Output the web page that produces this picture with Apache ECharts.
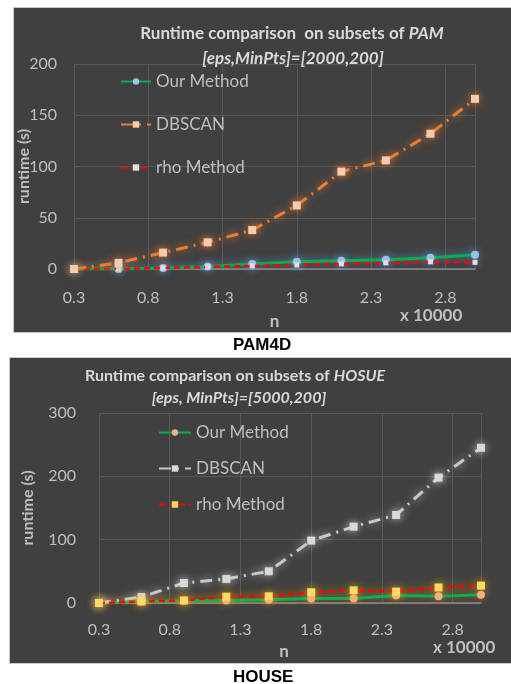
<!DOCTYPE html>
<html><head><meta charset="utf-8">
<script src="https://cdn.jsdelivr.net/npm/echarts@6/dist/echarts.min.js"></script>
<style>html,body{margin:0;padding:0;background:#fff;}#c{width:511px;height:684px;}</style>
</head><body><div id="c"></div>
<script>
// ---- data ----
const nValues = [0.3, 0.6, 0.9, 1.2, 1.5, 1.8, 2.1, 2.4, 2.7, 3.0];   // x 10000
const seriesNames = ['Our Method', 'DBSCAN', 'rho Method'];
// PAM4D
const pamOur    = [0, 0, 1, 2.5, 5, 7, 8, 9, 11, 14];
const pamDbscan = [0, 6, 16, 26, 38, 62, 95, 106, 132, 166];
const pamRho    = [0, 0, 1, 2, 3, 4, 5, 6, 7, 6.5];
// HOUSE
const houseOur    = [0, 2.5, 3.5, 4, 5, 7, 7, 12, 10.5, 13];
const houseDbscan = [0, 9.5, 31.5, 38, 50, 98.5, 120.5, 139, 198, 245];
const houseRho    = [0, 2.5, 4, 10, 10.5, 17, 20, 18, 24.5, 27.5];
// axes
const xMin = 0.3, xMax = 3.0, xStep = 0.5;
const pamYMax = 200, pamYStep = 50;
const houseYMax = 300, houseYStep = 100;

const pair = (ys) => nValues.map((x, i) => [x, ys[i]]);
const FONT = 'Lato';
const LBL = '#bfbfbf';
const GRIDC = '#595959';

function xAxis(gi, margin, nameGap, namePad) {
  return {
    type: 'value', gridIndex: gi, min: xMin, max: xMax, interval: xStep,
    name: 'n', nameLocation: 'middle', nameGap: nameGap, nameMoveOverlap: false,
    nameTextStyle: {color: LBL, fontFamily: FONT, fontWeight: 'bold', fontSize: 17, padding: namePad},
    axisLine: {show: true, onZero: false, lineStyle: {color: '#8c8c8c', width: 1.5}},
    axisTick: {show: false},
    splitLine: {show: true, lineStyle: {color: GRIDC, width: 1}},
    axisLabel: {color: LBL, fontFamily: FONT, fontSize: 16, margin: margin, showMaxLabel: false,
      formatter: v => v.toFixed(1)}
  };
}
function yAxis(gi, max, step, margin, nameGap) {
  return {
    type: 'value', gridIndex: gi, min: 0, max: max, interval: step,
    name: 'runtime (s)', nameLocation: 'middle', nameGap: nameGap, nameRotate: 90, nameMoveOverlap: false,
    nameTextStyle: {color: LBL, fontFamily: FONT, fontWeight: 'bold', fontSize: 16},
    axisLine: {show: false}, axisTick: {show: false},
    splitLine: {show: true, lineStyle: {color: GRIDC, width: 1}},
    axisLabel: {color: LBL, fontFamily: FONT, fontSize: 16, margin: margin}
  };
}
function lineSeries(name, gi, ys, o) {
  return {
    name: name, type: 'line', xAxisIndex: gi, yAxisIndex: gi, data: pair(ys),
    symbol: o.symbol, symbolSize: o.size, showSymbol: true,
    lineStyle: {color: o.line, width: o.width, type: o.dash || 'solid',
      shadowBlur: o.glow ? 8 : 0, shadowColor: o.glow || 'transparent'},
    itemStyle: {color: o.marker, borderWidth: 0, shadowBlur: 8, shadowColor: o.mglow || o.glow || 'transparent'},
    emphasis: {disabled: true}, animation: false, z: o.z || 2
  };
}

const titleStyle = (size) => ({color: '#d9d9d9', fontFamily: FONT, fontWeight: 'bold', fontSize: size,
  rich: {i: {fontStyle: 'italic', fontWeight: 'bold', fontFamily: FONT, fontSize: size, color: '#d9d9d9'}}});

const option = {
  animation: false,
  graphic: [
    {type: 'rect', z: -100, shape: {x: 13.5, y: 7.5, width: 500, height: 325}, style: {fill: '#404040', stroke: '#c8c8c8', lineWidth: 1}},
    {type: 'rect', z: -100, shape: {x: 9.5, y: 357.5, width: 505, height: 306}, style: {fill: '#404040', stroke: '#c8c8c8', lineWidth: 1}},
    {type: 'text', z: 100, left: 400, top: 307, style: {text: 'x 10000', fill: LBL, font: 'bold 17px Lato'}},
    {type: 'text', z: 100, left: 433, top: 639, style: {text: 'x 10000', fill: LBL, font: 'bold 17px Lato'}},
    {type: 'text', z: 100, left: 233, top: 337, style: {text: 'PAM4D', fill: '#000', font: 'bold 17px "Liberation Sans"'}},
    {type: 'text', z: 100, left: 233, top: 669, style: {text: 'HOUSE', fill: '#000', font: 'bold 17px "Liberation Sans"'}}
  ],
  title: [
    {text: 'Runtime comparison  on subsets of {i|PAM}', left: 287, top: 20, textAlign: 'center', textStyle: titleStyle(17)},
    {text: '[eps,MinPts]=[2000,200]', left: 288, top: 45, textAlign: 'center',
      textStyle: Object.assign(titleStyle(17), {fontStyle: 'italic'})},
    {text: 'Runtime comparison on subsets of {i|HOSUE}', left: 230, top: 363, textAlign: 'center', textStyle: titleStyle(16)},
    {text: '[eps, MinPts]=[5000,200]', left: 234, top: 385, textAlign: 'center',
      textStyle: Object.assign(titleStyle(16), {fontStyle: 'italic'})}
  ],
  legend: [
    {data: ['Our Method', 'DBSCAN', 'rho Method'], orient: 'vertical', left: 120, top: 73, itemGap: 26, padding: 0,
      itemWidth: 30, itemHeight: 8, textStyle: {color: LBL, fontFamily: FONT, fontSize: 17}, selectedMode: false},
    {data: ['Our Method #2', 'DBSCAN #2', 'rho Method #2'], orient: 'vertical', left: 158, top: 424, itemGap: 19, padding: 0,
      itemWidth: 32, itemHeight: 8, textStyle: {color: LBL, fontFamily: FONT, fontSize: 17}, selectedMode: false,
      formatter: n => n.replace(' #2', '')}
  ],
  grid: [
    {left: 74, top: 64, width: 401, height: 205},
    {left: 99, top: 413, width: 382, height: 190}
  ],
  xAxis: [xAxis(0, 21, 44, [0, 0, 0, 0]), xAxis(1, 19, 40, [0, 12, 0, 0])],
  yAxis: [yAxis(0, pamYMax, pamYStep, 17, 42), yAxis(1, houseYMax, houseYStep, 23, 63)],
  series: [
    lineSeries('rho Method', 0, pamRho, {symbol: 'rect', size: 5, line: '#ff0000', width: 2.5, dash: [6, 4], marker: '#e0e0e0', mglow: 'rgba(120,170,230,0.6)', z: 3}),
    lineSeries('Our Method', 0, pamOur, {symbol: 'circle', size: 8, line: '#00b050', width: 3, marker: '#9dc3e6', glow: 'rgba(91,155,213,0.8)', z: 2}),
    lineSeries('DBSCAN', 0, pamDbscan, {symbol: 'rect', size: 8, line: '#ed7d31', width: 3, dash: [12, 6, 2, 6], marker: '#f8cbad', glow: 'rgba(237,125,49,0.9)', z: 4}),
    lineSeries('Our Method #2', 1, houseOur, {symbol: 'circle', size: 8, line: '#00b050', width: 3, marker: '#f4b183', glow: 'rgba(237,125,49,0.6)', z: 2}),
    lineSeries('DBSCAN #2', 1, houseDbscan, {symbol: 'rect', size: 8, line: '#c8c8c8', width: 3, dash: [12, 6, 2, 6], marker: '#d9d9d9', glow: 'rgba(255,255,255,0.6)', z: 3}),
    lineSeries('rho Method #2', 1, houseRho, {symbol: 'rect', size: 8, line: '#ff0000', width: 2.5, dash: [6, 4], marker: '#ffd966', glow: 'rgba(255,192,0,0.7)', z: 4})
  ]
};
const chart = echarts.init(document.getElementById('c'), null, {renderer: 'canvas'});
chart.setOption(option);
</script></body></html>
